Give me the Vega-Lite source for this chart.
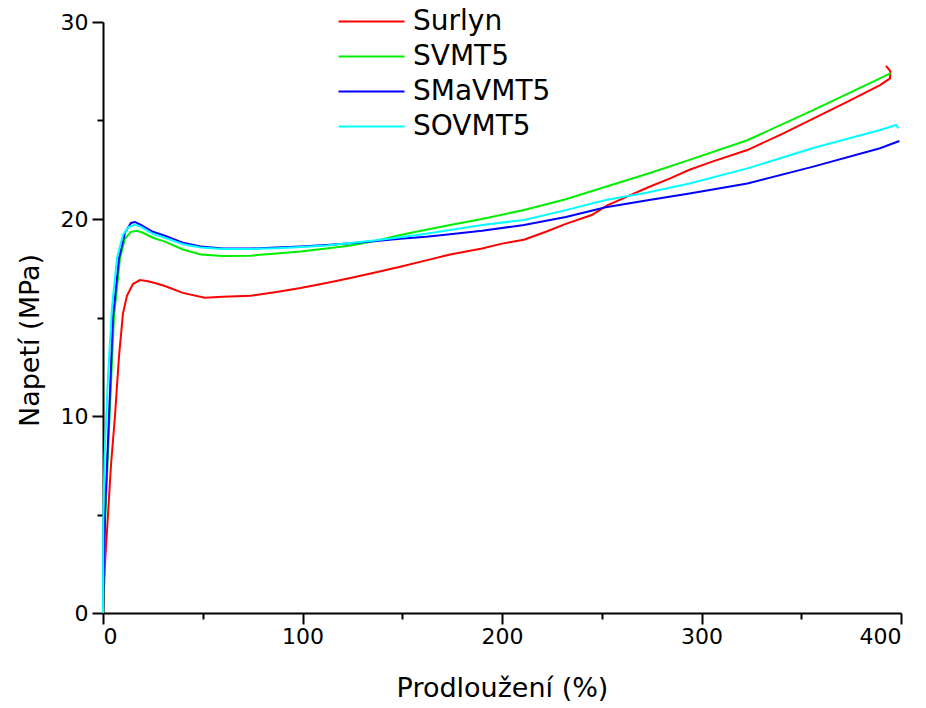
{
  "$schema": "https://vega.github.io/schema/vega-lite/v6.json",
  "width": 798,
  "height": 591,
  "autosize": "none",
  "padding": {"left": 103, "top": 22, "right": 25, "bottom": 95},
  "background": "white",
  "config": {"view": {"stroke": null}, "font": "DejaVu Sans"},
  "datasets": {
    "curves": [
      {"s": "Surlyn", "i": 0, "x": 0, "y": 0},
      {"s": "Surlyn", "i": 1, "x": 1, "y": 2.5},
      {"s": "Surlyn", "i": 2, "x": 2.5, "y": 5},
      {"s": "Surlyn", "i": 3, "x": 4, "y": 7.5},
      {"s": "Surlyn", "i": 4, "x": 6, "y": 10},
      {"s": "Surlyn", "i": 5, "x": 8, "y": 13},
      {"s": "Surlyn", "i": 6, "x": 10, "y": 15.2},
      {"s": "Surlyn", "i": 7, "x": 12, "y": 16.1},
      {"s": "Surlyn", "i": 8, "x": 15, "y": 16.7},
      {"s": "Surlyn", "i": 9, "x": 18.5, "y": 16.9},
      {"s": "Surlyn", "i": 10, "x": 22, "y": 16.85},
      {"s": "Surlyn", "i": 11, "x": 26, "y": 16.75},
      {"s": "Surlyn", "i": 12, "x": 31, "y": 16.6},
      {"s": "Surlyn", "i": 13, "x": 40, "y": 16.25},
      {"s": "Surlyn", "i": 14, "x": 51, "y": 16.0},
      {"s": "Surlyn", "i": 15, "x": 60, "y": 16.05},
      {"s": "Surlyn", "i": 16, "x": 74, "y": 16.1},
      {"s": "Surlyn", "i": 17, "x": 87, "y": 16.3},
      {"s": "Surlyn", "i": 18, "x": 99, "y": 16.5},
      {"s": "Surlyn", "i": 19, "x": 112, "y": 16.75},
      {"s": "Surlyn", "i": 20, "x": 124, "y": 17.0},
      {"s": "Surlyn", "i": 21, "x": 137, "y": 17.3},
      {"s": "Surlyn", "i": 22, "x": 149, "y": 17.58},
      {"s": "Surlyn", "i": 23, "x": 162, "y": 17.9},
      {"s": "Surlyn", "i": 24, "x": 174, "y": 18.2},
      {"s": "Surlyn", "i": 25, "x": 190, "y": 18.5},
      {"s": "Surlyn", "i": 26, "x": 200, "y": 18.75},
      {"s": "Surlyn", "i": 27, "x": 211, "y": 18.95},
      {"s": "Surlyn", "i": 28, "x": 222, "y": 19.35},
      {"s": "Surlyn", "i": 29, "x": 232, "y": 19.75},
      {"s": "Surlyn", "i": 30, "x": 245, "y": 20.2},
      {"s": "Surlyn", "i": 31, "x": 253, "y": 20.7},
      {"s": "Surlyn", "i": 32, "x": 263, "y": 21.15},
      {"s": "Surlyn", "i": 33, "x": 273, "y": 21.6},
      {"s": "Surlyn", "i": 34, "x": 284, "y": 22.05},
      {"s": "Surlyn", "i": 35, "x": 294, "y": 22.5},
      {"s": "Surlyn", "i": 36, "x": 305, "y": 22.9},
      {"s": "Surlyn", "i": 37, "x": 323, "y": 23.5},
      {"s": "Surlyn", "i": 38, "x": 340, "y": 24.3},
      {"s": "Surlyn", "i": 39, "x": 356, "y": 25.1},
      {"s": "Surlyn", "i": 40, "x": 373, "y": 25.95},
      {"s": "Surlyn", "i": 41, "x": 389.5, "y": 26.8},
      {"s": "Surlyn", "i": 42, "x": 394.5, "y": 27.14},
      {"s": "Surlyn", "i": 43, "x": 394.7, "y": 27.5},
      {"s": "Surlyn", "i": 44, "x": 392.5, "y": 27.77},

      {"s": "SVMT5", "i": 0, "x": 0, "y": 0},
      {"s": "SVMT5", "i": 1, "x": 1.2, "y": 5},
      {"s": "SVMT5", "i": 2, "x": 3.3, "y": 10},
      {"s": "SVMT5", "i": 3, "x": 5.5, "y": 15},
      {"s": "SVMT5", "i": 4, "x": 8.5, "y": 18},
      {"s": "SVMT5", "i": 5, "x": 11, "y": 19},
      {"s": "SVMT5", "i": 6, "x": 14, "y": 19.35},
      {"s": "SVMT5", "i": 7, "x": 17, "y": 19.4},
      {"s": "SVMT5", "i": 8, "x": 20, "y": 19.3},
      {"s": "SVMT5", "i": 9, "x": 25, "y": 19.05},
      {"s": "SVMT5", "i": 10, "x": 31, "y": 18.85},
      {"s": "SVMT5", "i": 11, "x": 40, "y": 18.45},
      {"s": "SVMT5", "i": 12, "x": 49, "y": 18.2},
      {"s": "SVMT5", "i": 13, "x": 60, "y": 18.12},
      {"s": "SVMT5", "i": 14, "x": 74, "y": 18.14},
      {"s": "SVMT5", "i": 15, "x": 87, "y": 18.25},
      {"s": "SVMT5", "i": 16, "x": 99, "y": 18.35},
      {"s": "SVMT5", "i": 17, "x": 112, "y": 18.5},
      {"s": "SVMT5", "i": 18, "x": 124, "y": 18.66},
      {"s": "SVMT5", "i": 19, "x": 137, "y": 18.9},
      {"s": "SVMT5", "i": 20, "x": 149, "y": 19.19},
      {"s": "SVMT5", "i": 21, "x": 162, "y": 19.45},
      {"s": "SVMT5", "i": 22, "x": 174, "y": 19.7},
      {"s": "SVMT5", "i": 23, "x": 190, "y": 20.0},
      {"s": "SVMT5", "i": 24, "x": 211, "y": 20.46},
      {"s": "SVMT5", "i": 25, "x": 232, "y": 21.0},
      {"s": "SVMT5", "i": 26, "x": 252, "y": 21.64},
      {"s": "SVMT5", "i": 27, "x": 273, "y": 22.3},
      {"s": "SVMT5", "i": 28, "x": 294, "y": 23.0},
      {"s": "SVMT5", "i": 29, "x": 323, "y": 24.0},
      {"s": "SVMT5", "i": 30, "x": 356, "y": 25.53},
      {"s": "SVMT5", "i": 31, "x": 389.5, "y": 27.14},
      {"s": "SVMT5", "i": 32, "x": 394.8, "y": 27.4},

      {"s": "SMaVMT5", "i": 0, "x": 0, "y": 0},
      {"s": "SMaVMT5", "i": 1, "x": 1, "y": 5},
      {"s": "SMaVMT5", "i": 2, "x": 3, "y": 10},
      {"s": "SMaVMT5", "i": 3, "x": 5, "y": 15},
      {"s": "SMaVMT5", "i": 4, "x": 8, "y": 18},
      {"s": "SMaVMT5", "i": 5, "x": 11, "y": 19.3},
      {"s": "SMaVMT5", "i": 6, "x": 14, "y": 19.8},
      {"s": "SMaVMT5", "i": 7, "x": 16, "y": 19.85},
      {"s": "SMaVMT5", "i": 8, "x": 19, "y": 19.7},
      {"s": "SMaVMT5", "i": 9, "x": 25, "y": 19.35},
      {"s": "SMaVMT5", "i": 10, "x": 31, "y": 19.15},
      {"s": "SMaVMT5", "i": 11, "x": 40, "y": 18.8},
      {"s": "SMaVMT5", "i": 12, "x": 49, "y": 18.6},
      {"s": "SMaVMT5", "i": 13, "x": 60, "y": 18.5},
      {"s": "SMaVMT5", "i": 14, "x": 74, "y": 18.5},
      {"s": "SMaVMT5", "i": 15, "x": 87, "y": 18.55},
      {"s": "SMaVMT5", "i": 16, "x": 99, "y": 18.6},
      {"s": "SMaVMT5", "i": 17, "x": 112, "y": 18.68},
      {"s": "SMaVMT5", "i": 18, "x": 124, "y": 18.77},
      {"s": "SMaVMT5", "i": 19, "x": 137, "y": 18.88},
      {"s": "SMaVMT5", "i": 20, "x": 149, "y": 19.0},
      {"s": "SMaVMT5", "i": 21, "x": 162, "y": 19.1},
      {"s": "SMaVMT5", "i": 22, "x": 174, "y": 19.22},
      {"s": "SMaVMT5", "i": 23, "x": 190, "y": 19.4},
      {"s": "SMaVMT5", "i": 24, "x": 211, "y": 19.7},
      {"s": "SMaVMT5", "i": 25, "x": 232, "y": 20.1},
      {"s": "SMaVMT5", "i": 26, "x": 252, "y": 20.6},
      {"s": "SMaVMT5", "i": 27, "x": 273, "y": 20.95},
      {"s": "SMaVMT5", "i": 28, "x": 294, "y": 21.3},
      {"s": "SMaVMT5", "i": 29, "x": 323, "y": 21.8},
      {"s": "SMaVMT5", "i": 30, "x": 356, "y": 22.66},
      {"s": "SMaVMT5", "i": 31, "x": 389.5, "y": 23.59},
      {"s": "SMaVMT5", "i": 32, "x": 399.2, "y": 23.96},

      {"s": "SOVMT5", "i": 0, "x": 0, "y": 0},
      {"s": "SOVMT5", "i": 1, "x": 0.1, "y": 4.5},
      {"s": "SOVMT5", "i": 2, "x": 0.8, "y": 8},
      {"s": "SOVMT5", "i": 3, "x": 2.5, "y": 12},
      {"s": "SOVMT5", "i": 4, "x": 4.5, "y": 15.5},
      {"s": "SOVMT5", "i": 5, "x": 7, "y": 18},
      {"s": "SOVMT5", "i": 6, "x": 10, "y": 19.2},
      {"s": "SOVMT5", "i": 7, "x": 13, "y": 19.6},
      {"s": "SOVMT5", "i": 8, "x": 16, "y": 19.7},
      {"s": "SOVMT5", "i": 9, "x": 19, "y": 19.6},
      {"s": "SOVMT5", "i": 10, "x": 25, "y": 19.25},
      {"s": "SOVMT5", "i": 11, "x": 31, "y": 19.05},
      {"s": "SOVMT5", "i": 12, "x": 40, "y": 18.72},
      {"s": "SOVMT5", "i": 13, "x": 49, "y": 18.55},
      {"s": "SOVMT5", "i": 14, "x": 60, "y": 18.48},
      {"s": "SOVMT5", "i": 15, "x": 74, "y": 18.48},
      {"s": "SOVMT5", "i": 16, "x": 87, "y": 18.52},
      {"s": "SOVMT5", "i": 17, "x": 99, "y": 18.58},
      {"s": "SOVMT5", "i": 18, "x": 112, "y": 18.66},
      {"s": "SOVMT5", "i": 19, "x": 124, "y": 18.78},
      {"s": "SOVMT5", "i": 20, "x": 137, "y": 18.92},
      {"s": "SOVMT5", "i": 21, "x": 149, "y": 19.07},
      {"s": "SOVMT5", "i": 22, "x": 162, "y": 19.25},
      {"s": "SOVMT5", "i": 23, "x": 174, "y": 19.44},
      {"s": "SOVMT5", "i": 24, "x": 190, "y": 19.7},
      {"s": "SOVMT5", "i": 25, "x": 211, "y": 19.95},
      {"s": "SOVMT5", "i": 26, "x": 232, "y": 20.45},
      {"s": "SOVMT5", "i": 27, "x": 252, "y": 20.96},
      {"s": "SOVMT5", "i": 28, "x": 273, "y": 21.35},
      {"s": "SOVMT5", "i": 29, "x": 294, "y": 21.8},
      {"s": "SOVMT5", "i": 30, "x": 323, "y": 22.57},
      {"s": "SOVMT5", "i": 31, "x": 356, "y": 23.6},
      {"s": "SOVMT5", "i": 32, "x": 389.5, "y": 24.52},
      {"s": "SOVMT5", "i": 33, "x": 397.5, "y": 24.77},
      {"s": "SOVMT5", "i": 34, "x": 398.7, "y": 24.6}
    ]
  },
  "data": {"name": "curves"},
  "resolve": {"axis": {"x": "independent", "y": "independent"}},
  "layer": [
    {
      "mark": {"type": "line", "strokeWidth": 2},
      "encoding": {
        "x": {
          "field": "x",
          "type": "quantitative",
          "scale": {"domain": [0, 400], "nice": false, "zero": false},
          "axis": {
            "orient": "bottom",
            "title": "Prodloužení (%)",
            "values": [0, 100, 200, 300, 400],
            "grid": false,
            "domainColor": "black",
            "domainWidth": 2,
            "tickColor": "black",
            "tickWidth": 2,
            "tickSize": 11,
            "labelFontSize": 22,
            "labelColor": "black",
            "labelPadding": 2,
            "labelFont": "DejaVu Sans",
            "titleFont": "DejaVu Sans",
            "titleFontSize": 27,
            "titleFontWeight": "normal",
            "titleColor": "black",
            "titlePadding": 28
          }
        },
        "y": {
          "field": "y",
          "type": "quantitative",
          "scale": {"domain": [0, 30], "nice": false},
          "axis": {
            "orient": "left",
            "title": "Napetí (MPa)",
            "values": [0, 10, 20, 30],
            "grid": false,
            "domainColor": "black",
            "domainWidth": 2,
            "tickColor": "black",
            "tickWidth": 2,
            "tickSize": 11,
            "labelFontSize": 22,
            "labelColor": "black",
            "labelPadding": 4,
            "labelFont": "DejaVu Sans",
            "titleFont": "DejaVu Sans",
            "titleFontSize": 27,
            "titleFontWeight": "normal",
            "titleColor": "black",
            "titlePadding": 16,
            "titleY": 318
          }
        },
        "color": {
          "field": "s",
          "type": "nominal",
          "scale": {
            "domain": ["Surlyn", "SVMT5", "SMaVMT5", "SOVMT5"],
            "range": ["#ff0000", "#00ee00", "#0000ff", "#00ffff"]
          },
          "legend": {
            "title": null,
            "orient": "none",
            "legendX": 251,
            "legendY": -18,
            "symbolType": "M-2,0H2",
            "symbolSize": 1089,
            "symbolStrokeWidth": 2,
            "labelFontSize": 28,
            "labelFont": "DejaVu Sans",
            "labelColor": "black",
            "labelOffset": 24,
            "rowPadding": 3
          }
        },
        "order": {"field": "i", "type": "quantitative"}
      }
    },
    {
      "mark": {"type": "line", "strokeWidth": 2, "strokeOpacity": 0},
      "encoding": {
        "x": {
          "field": "x",
          "type": "quantitative",
          "scale": {"domain": [0, 400], "nice": false, "zero": false},
          "axis": {
            "orient": "bottom",
            "title": null,
            "values": [50, 150, 250, 350],
            "labels": false,
            "domain": false,
            "grid": false,
            "tickColor": "black",
            "tickWidth": 2,
            "tickSize": 6
          }
        },
        "y": {
          "field": "y",
          "type": "quantitative",
          "scale": {"domain": [0, 30], "nice": false},
          "axis": {
            "orient": "left",
            "title": null,
            "values": [5, 15, 25],
            "labels": false,
            "domain": false,
            "grid": false,
            "tickColor": "black",
            "tickWidth": 2,
            "tickSize": 6
          }
        },
        "detail": {"field": "s", "type": "nominal"},
        "order": {"field": "i", "type": "quantitative"}
      }
    }
  ]
}
